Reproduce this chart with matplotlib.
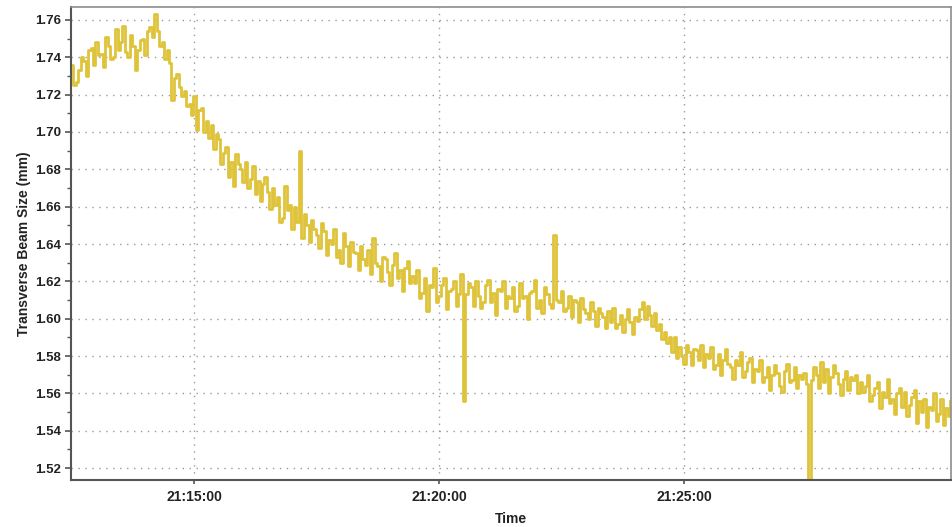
import matplotlib
matplotlib.use("Agg")
import matplotlib.pyplot as plt
import matplotlib.dates as mdates
from matplotlib.ticker import MultipleLocator, FormatStrFormatter
import pandas as pd

plt.rcParams["font.family"] = ["Liberation Sans", "DejaVu Sans"]

# beam size readings, one every 3 s, one row per minute starting 21:12:29
size_mm = [
    1.736, 1.725, 1.727, 1.733, 1.740, 1.738, 1.730, 1.744, 1.745, 1.736, 1.748, 1.741, 1.742, 1.735, 1.751, 1.746, 1.739, 1.740, 1.755, 1.744,
    1.748, 1.757, 1.743, 1.740, 1.752, 1.746, 1.733, 1.744, 1.749, 1.750, 1.741, 1.754, 1.756, 1.751, 1.763, 1.754, 1.746, 1.748, 1.739, 1.744,
    1.737, 1.717, 1.729, 1.731, 1.724, 1.719, 1.722, 1.714, 1.715, 1.709, 1.719, 1.701, 1.712, 1.713, 1.700, 1.706, 1.697, 1.704, 1.691, 1.699,
    1.696, 1.683, 1.689, 1.692, 1.676, 1.684, 1.671, 1.688, 1.683, 1.680, 1.673, 1.684, 1.670, 1.675, 1.682, 1.667, 1.674, 1.663, 1.672, 1.676,
    1.668, 1.659, 1.670, 1.661, 1.665, 1.652, 1.654, 1.671, 1.658, 1.661, 1.648, 1.660, 1.652, 1.690, 1.643, 1.656, 1.650, 1.641, 1.653, 1.648,
    1.645, 1.638, 1.651, 1.647, 1.634, 1.642, 1.640, 1.648, 1.633, 1.637, 1.630, 1.646, 1.639, 1.628, 1.641, 1.636, 1.635, 1.626, 1.639, 1.632,
    1.629, 1.637, 1.624, 1.643, 1.630, 1.628, 1.620, 1.633, 1.632, 1.625, 1.618, 1.629, 1.635, 1.622, 1.626, 1.615, 1.627, 1.631, 1.619, 1.623,
    1.619, 1.626, 1.611, 1.614, 1.622, 1.604, 1.618, 1.617, 1.627, 1.609, 1.612, 1.618, 1.622, 1.605, 1.615, 1.616, 1.620, 1.607, 1.613, 1.624,
    1.556, 1.613, 1.619, 1.617, 1.607, 1.620, 1.612, 1.606, 1.609, 1.618, 1.621, 1.609, 1.614, 1.602, 1.616, 1.615, 1.620, 1.606, 1.612, 1.611,
    1.617, 1.604, 1.607, 1.619, 1.611, 1.612, 1.600, 1.614, 1.615, 1.621, 1.606, 1.610, 1.603, 1.617, 1.613, 1.608, 1.606, 1.645, 1.610, 1.609,
    1.615, 1.604, 1.606, 1.612, 1.601, 1.610, 1.609, 1.598, 1.611, 1.605, 1.603, 1.600, 1.609, 1.604, 1.596, 1.606, 1.603, 1.601, 1.595, 1.604,
    1.598, 1.606, 1.595, 1.597, 1.602, 1.593, 1.600, 1.605, 1.598, 1.592, 1.601, 1.599, 1.605, 1.609, 1.600, 1.607, 1.602, 1.596, 1.603, 1.594,
    1.597, 1.589, 1.593, 1.587, 1.590, 1.582, 1.590, 1.579, 1.585, 1.580, 1.576, 1.586, 1.582, 1.575, 1.584, 1.583, 1.578, 1.586, 1.574, 1.581,
    1.579, 1.585, 1.573, 1.575, 1.581, 1.570, 1.578, 1.584, 1.576, 1.574, 1.568, 1.578, 1.575, 1.582, 1.569, 1.572, 1.577, 1.579, 1.566, 1.573,
    1.572, 1.578, 1.566, 1.569, 1.574, 1.562, 1.570, 1.575, 1.571, 1.564, 1.561, 1.572, 1.576, 1.566, 1.567, 1.574, 1.563, 1.570, 1.568, 1.571,
    1.565, 1.500, 1.567, 1.574, 1.570, 1.563, 1.577, 1.566, 1.573, 1.560, 1.569, 1.575, 1.571, 1.565, 1.559, 1.568, 1.572, 1.562, 1.569, 1.567,
    1.570, 1.560, 1.566, 1.561, 1.564, 1.570, 1.556, 1.559, 1.563, 1.566, 1.552, 1.561, 1.558, 1.568, 1.555, 1.557, 1.549, 1.560, 1.563, 1.553,
    1.561, 1.548, 1.554, 1.558, 1.562, 1.544, 1.556, 1.550, 1.557, 1.542, 1.553, 1.551, 1.560, 1.545, 1.549, 1.557, 1.543, 1.552, 1.548, 1.556,
]
start_time = "2000-01-01 21:12:29"
sample_step = "3s"
x_start = "2000-01-01 21:12:29"
x_end = "2000-01-01 21:30:27"
tick_times = ["2000-01-01 21:15:00", "2000-01-01 21:20:00", "2000-01-01 21:25:00"]

times = pd.date_range(start_time, periods=len(size_mm), freq=sample_step)

fig = plt.figure(figsize=(9.53, 5.27), dpi=100)
ax = fig.add_axes([0.0745, 0.089, 0.9235, 0.898])

ax.plot(times, size_mm, drawstyle="steps-post", color="#DFC33A", linewidth=2.0)

ax.set_xlim(pd.Timestamp(x_start), pd.Timestamp(x_end))
ax.set_ylim(1.5136, 1.767)

ax.set_xticks(pd.to_datetime(tick_times))
ax.xaxis.set_major_formatter(mdates.DateFormatter("%H:%M:%S"))
ax.yaxis.set_major_locator(MultipleLocator(0.02))
ax.yaxis.set_minor_locator(MultipleLocator(0.01))
ax.yaxis.set_major_formatter(FormatStrFormatter("%.2f"))

ax.grid(True, which="major", color="#9a9a9a", linestyle=(0, (1, 4)), linewidth=1.0)

for side in ("left", "bottom"):
    ax.spines[side].set_color("#555555")
    ax.spines[side].set_linewidth(1.5)
for side in ("top", "right"):
    ax.spines[side].set_color("#8c8c8c")
    ax.spines[side].set_linewidth(1.2)

ax.tick_params(axis="y", which="major", length=4, width=1.2, color="#555555", pad=3, labelsize=9.5)
ax.tick_params(axis="y", which="minor", length=3, width=1.0, color="#555555")
ax.tick_params(axis="x", which="major", length=3, width=1.2, color="#555555", pad=4, labelsize=10)
for lbl in ax.get_xticklabels() + ax.get_yticklabels():
    lbl.set_fontweight("bold")
    lbl.set_color("#222222")

ax.set_ylabel("Transverse Beam Size (mm)", fontsize=10, fontweight="bold", color="#222222", labelpad=3)
ax.set_xlabel("Time", fontsize=10, fontweight="bold", color="#222222", labelpad=6)

fig.savefig("out.png", dpi=100)
